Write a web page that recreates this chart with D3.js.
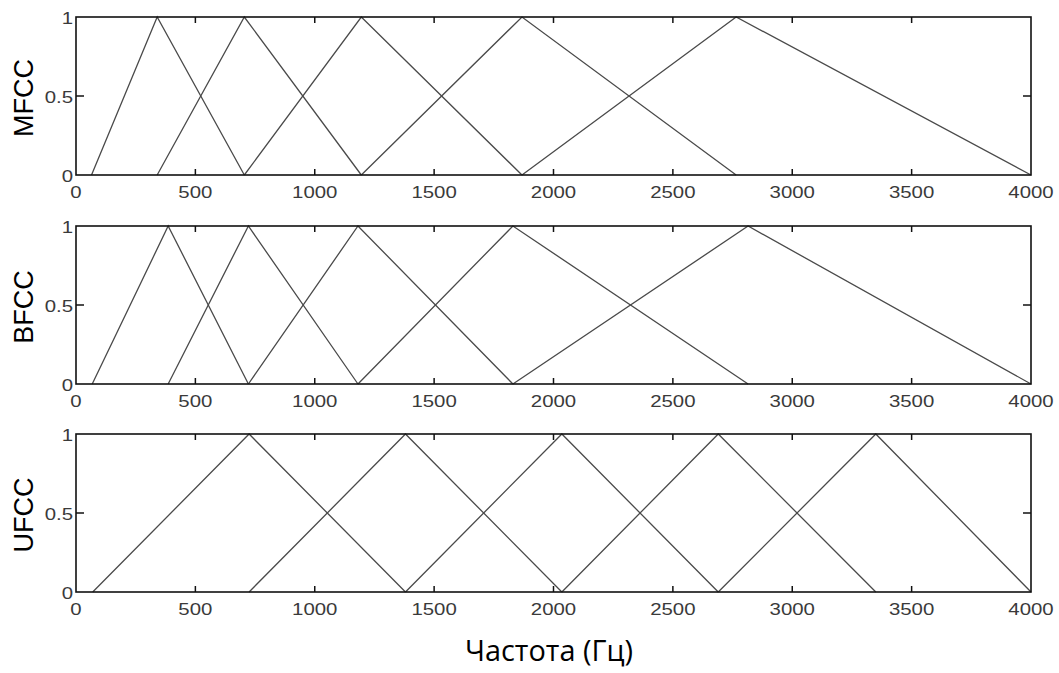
<!DOCTYPE html>
<html>
<head>
<meta charset="utf-8">
<script src="https://cdn.jsdelivr.net/npm/d3@7"></script>
<style>
  html, body { margin: 0; padding: 0; background: #fff; }
  svg { display: block; }
</style>
</head>
<body>
<svg id="chart" width="1059" height="673"></svg>
<script>
// ---- data ----
const panelNames = ["MFCC", "BFCC", "UFCC"];
// filter-bank edge frequencies (Hz): triangle i = edges[i] -> peak edges[i+1] -> edges[i+2]
const mfccEdges = [65, 340, 705, 1195, 1868, 2765, 4000];
const bfccEdges = [68, 386, 722, 1181, 1830, 2815, 4000];
const ufccEdges = [70, 725, 1380, 2035, 2690, 3350, 4000];
const xTickValues = [0, 500, 1000, 1500, 2000, 2500, 3000, 3500, 4000];
const xTickLabels = ["0", "500", "1000", "1500", "2000", "2500", "3000", "3500", "4000"];
const yTickValues = [0, 0.5, 1];
const yTickLabels = ["0", "0.5", "1"];
const xTitle = "Частота (Гц)";

const panelEdges = [mfccEdges, bfccEdges, ufccEdges];

// ---- layout ----
const svg = d3.select("#chart");
const left = 76, right = 1031;
const panelTops = [17, 226, 434];
const panelH = 158;

const x = d3.scaleLinear().domain([0, 4000]).range([left, right]);

panelEdges.forEach((edges, pi) => {
  const top = panelTops[pi];
  const y = d3.scaleLinear().domain([0, 1]).range([top + panelH, top]);
  const g = svg.append("g");

  // triangles
  const tri = [];
  for (let i = 0; i + 2 < edges.length; i++) {
    tri.push([[edges[i], 0], [edges[i + 1], 1], [edges[i + 2], 0]]);
  }
  const line = d3.line().x(d => x(d[0])).y(d => y(d[1]));
  g.selectAll("path.tri").data(tri).join("path")
    .attr("class", "tri")
    .attr("d", line)
    .attr("fill", "none")
    .attr("stroke", "#4a4a4a")
    .attr("stroke-width", 1.3);

  // inward ticks: bottom & top
  const inner = xTickValues.filter(v => v > 0 && v < 4000);
  g.selectAll("line.xb").data(inner).join("line")
    .attr("x1", d => x(d)).attr("x2", d => x(d))
    .attr("y1", y(0)).attr("y2", y(0) - 6)
    .attr("stroke", "#111").attr("stroke-width", 1.5);
  g.selectAll("line.xt").data(inner).join("line")
    .attr("x1", d => x(d)).attr("x2", d => x(d))
    .attr("y1", y(1)).attr("y2", y(1) + 6)
    .attr("stroke", "#111").attr("stroke-width", 1.5);
  // y ticks left & right
  const yInner = yTickValues.filter(v => v > 0 && v < 1);
  g.selectAll("line.yl").data(yInner).join("line")
    .attr("x1", left).attr("x2", left + 8)
    .attr("y1", d => y(d)).attr("y2", d => y(d))
    .attr("stroke", "#111").attr("stroke-width", 1.5);
  g.selectAll("line.yr").data(yInner).join("line")
    .attr("x1", right).attr("x2", right - 8)
    .attr("y1", d => y(d)).attr("y2", d => y(d))
    .attr("stroke", "#111").attr("stroke-width", 1.5);

  // frame
  g.append("rect")
    .attr("x", left).attr("y", top)
    .attr("width", right - left).attr("height", panelH)
    .attr("fill", "none").attr("stroke", "#111").attr("stroke-width", 1.6);

  // x tick labels
  g.selectAll("text.xl").data(xTickValues).join("text")
    .attr("class", "xl")
    .attr("transform", d => `translate(${x(d)},${y(0) + 23}) scale(1.2,1)`)
    .attr("text-anchor", "middle")
    .attr("font-family", "Liberation Sans, Arial, sans-serif")
    .attr("font-size", 17)
    .attr("fill", "#3a3a3a")
    .text((d, i) => xTickLabels[i]);

  // y tick labels
  g.selectAll("text.yl").data(yTickValues).join("text")
    .attr("class", "yl")
    .attr("transform", d => `translate(${left - 3},${y(d) + 7}) scale(1.2,1)`)
    .attr("text-anchor", "end")
    .attr("font-family", "Liberation Sans, Arial, sans-serif")
    .attr("font-size", 17)
    .attr("fill", "#3a3a3a")
    .text((d, i) => yTickLabels[i]);

  // y axis title
  g.append("text")
    .attr("transform", `translate(33,${top + panelH / 2 + 2}) rotate(-90)`)
    .attr("text-anchor", "middle")
    .attr("font-family", "Liberation Sans, Arial, sans-serif")
    .attr("font-size", 27)
    .attr("fill", "#000")
    .text(panelNames[pi]);
});

// x axis title
svg.append("text")
  .attr("x", 549).attr("y", 661)
  .attr("text-anchor", "middle")
  .attr("font-family", "Open Sans, Noto Sans, sans-serif")
  .attr("font-size", 29)
  .attr("textLength", 168)
  .attr("lengthAdjust", "spacingAndGlyphs")
  .attr("fill", "#000")
  .text(xTitle);
</script>
</body>
</html>
